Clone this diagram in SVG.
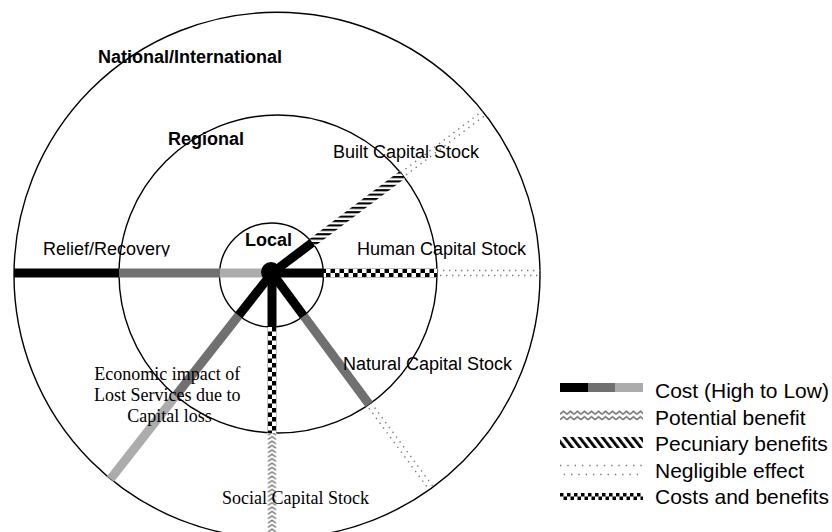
<svg xmlns="http://www.w3.org/2000/svg" width="832" height="532" viewBox="0 0 832 532">
<style>
.ring{fill:none;stroke:#000;stroke-width:1.4}
.seg{fill:none;stroke-width:9;stroke-linecap:butt}
.blk{stroke:#000}
.dk{stroke:#707070}
.lt{stroke:#acacac}
.dot{fill:none;stroke:#7a7a7a;stroke-width:1.4;stroke-dasharray:1.4 4.6}
.sans{font-family:"Liberation Sans",Arial,sans-serif;font-size:18px;fill:#000}
.bold{font-weight:bold}
.serif{font-family:"Liberation Serif","Times New Roman",serif;font-size:18px;fill:#000}
.leg{font-family:"Liberation Sans",Arial,sans-serif;font-size:21px;fill:#000}
</style>
<defs>
<pattern id="chk" patternUnits="userSpaceOnUse" x="2" y="3" width="9" height="9">
<rect width="9" height="9" fill="#fff"/>
<rect x="0" y="0" width="4.5" height="4.5" fill="#000"/>
<rect x="4.5" y="4.5" width="4.5" height="4.5" fill="#000"/>
</pattern>
<pattern id="hatch" patternUnits="userSpaceOnUse" x="0" y="0" width="10" height="4.4">
<rect width="10" height="4.4" fill="#fff"/>
<rect x="0" y="0" width="10" height="2.1" fill="#000"/>
</pattern>
<pattern id="chev" patternUnits="userSpaceOnUse" x="267.5" y="0" width="9" height="4.4">
<rect width="9" height="4.4" fill="#fff"/>
<path d="M0.5,3.8 L4.5,1 L8.5,3.8" fill="none" stroke="#6e6e6e" stroke-width="1.3"/>
</pattern>
<pattern id="zzL" patternUnits="userSpaceOnUse" x="560" y="410" width="7" height="5.5">
<path d="M0,4.3 L3.5,1.2 L7,4.3" fill="none" stroke="#6e6e6e" stroke-width="1.5"/>
</pattern>
<pattern id="hatchL" patternUnits="userSpaceOnUse" x="0" y="0" width="6" height="12" patternTransform="rotate(-38)">
<rect x="0" y="0" width="2.8" height="12" fill="#000"/>
</pattern>
<pattern id="chkL" patternUnits="userSpaceOnUse" x="560" y="493" width="7" height="7">
<rect width="7" height="7" fill="#fff"/>
<rect x="0" y="0" width="3.5" height="3.5" fill="#000"/>
<rect x="3.5" y="3.5" width="3.5" height="3.5" fill="#000"/>
</pattern>
<clipPath id="clipRelief">
<rect x="0" y="0" width="300" height="256.5"/>
</clipPath>
</defs>
<rect width="832" height="532" fill="#fff"/>

<g id="rings">
<circle id="ring-national" class="ring" cx="277" cy="275.3" r="263"/>
<circle id="ring-regional" class="ring" cx="278" cy="274" r="159"/>
<circle id="ring-local" class="ring" cx="271.5" cy="275" r="52"/>
</g>

<g id="connectors">
<g id="ray-relief">
<line class="seg blk" x1="14" y1="273" x2="119" y2="273"/>
<line class="seg dk" x1="119" y1="273" x2="219.5" y2="273"/>
<line class="seg lt" x1="219.5" y1="273" x2="272" y2="273"/>
</g>
<g id="ray-human">
<line class="seg" stroke="url(#chk)" x1="323.5" y1="273" x2="437" y2="273"/>
<line class="dot" x1="437" y1="270.5" x2="540" y2="270.5"/>
<line class="dot" x1="437" y1="275.5" x2="540" y2="275.5" stroke-dashoffset="3"/>
<line class="seg blk" x1="272" y1="273" x2="323.5" y2="273"/>
</g>
<g id="ray-built">
<line class="seg" stroke="url(#hatch)" x1="312.2" y1="242.7" x2="402.2" y2="174.8"/>
<g transform="translate(272,273) rotate(-37.04)">
<line class="dot" x1="163.1" y1="-2.5" x2="265.6" y2="-2.5"/>
<line class="dot" x1="163.1" y1="2.5" x2="265.6" y2="2.5" stroke-dashoffset="3"/>
</g>
<line class="seg blk" x1="272" y1="273" x2="312.2" y2="242.7"/>
</g>
<g id="ray-social">
<line class="seg" stroke="url(#chk)" x1="272" y1="327" x2="272" y2="433"/>
<line class="seg" stroke="url(#chev)" x1="272" y1="433" x2="272" y2="532"/>
<line class="seg blk" x1="272" y1="273" x2="272" y2="327"/>
</g>
<g id="ray-natural">
<line class="seg dk" x1="303.7" y1="315.9" x2="369.1" y2="404.3"/>
<g transform="translate(272,273) rotate(53.52)">
<line class="dot" x1="163.3" y1="-2.5" x2="267.8" y2="-2.5"/>
<line class="dot" x1="163.3" y1="2.5" x2="267.8" y2="2.5" stroke-dashoffset="3"/>
</g>
<line class="seg blk" x1="272" y1="273" x2="303.7" y2="315.9"/>
</g>
<g id="ray-economic">
<line class="seg lt" x1="175.7" y1="395.8" x2="110.5" y2="479"/>
<line class="seg dk" x1="238.7" y1="315.4" x2="175.7" y2="395.8"/>
<line class="seg blk" x1="272" y1="273" x2="238.7" y2="315.4"/>
</g>
<circle id="hub" cx="271" cy="272" r="10"/>
</g>

<g id="labels">
<text id="lbl-national" class="sans bold" x="98" y="63">National/International</text>
<text id="lbl-regional" class="sans bold" x="168" y="145">Regional</text>
<text id="lbl-local" class="sans bold" x="245" y="246">Local</text>
<text id="lbl-relief" class="sans" x="43" y="255" clip-path="url(#clipRelief)">Relief/Recovery</text>
<text id="lbl-built" class="sans" x="333" y="158">Built Capital Stock</text>
<text id="lbl-human" class="sans" x="357" y="255">Human Capital Stock</text>
<text id="lbl-natural" class="sans" x="343" y="370">Natural Capital Stock</text>
<text id="lbl-economic" class="serif" text-anchor="middle">
<tspan x="169.5" y="380">Economic impact of</tspan>
<tspan x="169.5" y="401">Lost Services due to</tspan>
<tspan x="169.5" y="422">Capital loss</tspan>
</text>
<text id="lbl-social" class="serif" x="222" y="504">Social Capital Stock</text>
</g>

<g id="legend">
<g id="leg-cost">
<rect x="560" y="383" width="28" height="9" fill="#000"/>
<rect x="588" y="383" width="27" height="9" fill="#707070"/>
<rect x="615" y="383" width="28" height="9" fill="#acacac"/>
<text class="leg" x="655" y="398">Cost (High to Low)</text>
</g>
<g id="leg-potential">
<rect x="560" y="410" width="83" height="11" fill="url(#zzL)"/>
<text class="leg" x="655" y="424.5">Potential benefit</text>
</g>
<g id="leg-pecuniary">
<rect x="560" y="437" width="83" height="11" fill="url(#hatchL)"/>
<text class="leg" x="655" y="451">Pecuniary benefits</text>
</g>
<g id="leg-negligible">
<line x1="560" y1="465.5" x2="643" y2="465.5" stroke="#7a7a7a" stroke-width="1.4" stroke-dasharray="1.4 5.9"/>
<line x1="560" y1="474.5" x2="643" y2="474.5" stroke="#7a7a7a" stroke-width="1.4" stroke-dasharray="1.4 5.9" stroke-dashoffset="3.6"/>
<text class="leg" x="655" y="477.5">Negligible effect</text>
</g>
<g id="leg-costsbenefits">
<rect x="560" y="493" width="83" height="7" fill="url(#chkL)"/>
<text class="leg" x="655" y="504">Costs and benefits</text>
</g>
</g>
</svg>
